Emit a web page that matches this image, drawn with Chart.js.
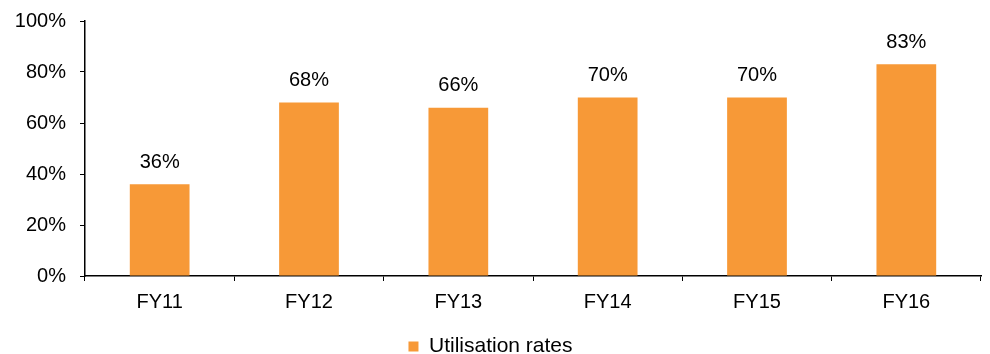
<!DOCTYPE html>
<html>
<head>
<meta charset="utf-8">
<script src="https://cdn.jsdelivr.net/npm/chart.js@4"></script>
<style>
  html, body { margin: 0; padding: 0; background: #fff; }
  #wrap { width: 990px; height: 354px; }
</style>
</head>
<body>
<div id="wrap"><canvas id="c" width="990" height="354"></canvas></div>
<script>
const categories = ['FY11', 'FY12', 'FY13', 'FY14', 'FY15', 'FY16'];
const utilisation = [36, 68, 66, 70, 70, 83];
const yTicks = [0, 20, 40, 60, 80, 100];
const seriesName = 'Utilisation rates';

const FONT = '"Liberation Sans", Arial, sans-serif';
const ORANGE = 'rgb(247,153,55)';

// Writes each bar's value above it
const valueLabels = {
  id: 'valueLabels',
  afterDatasetsDraw(chart) {
    const ctx = chart.ctx;
    const meta = chart.getDatasetMeta(0);
    ctx.save();
    ctx.font = '20px ' + FONT;
    ctx.fillStyle = '#000';
    ctx.textAlign = 'center';
    ctx.textBaseline = 'bottom';
    meta.data.forEach((bar, i) => {
      ctx.fillText(utilisation[i] + '%', bar.x, bar.y - 12);
    });
    ctx.restore();
  }
};

new Chart(document.getElementById('c'), {
  type: 'bar',
  data: {
    labels: categories,
    datasets: [{
      label: seriesName,
      data: utilisation,
      backgroundColor: ORANGE,
      borderWidth: 0,
      categoryPercentage: 1,
      barPercentage: 0.4
    }]
  },
  options: {
    responsive: false,
    animation: false,
    devicePixelRatio: 1,
    layout: { padding: { top: 21, right: 9, left: 0, bottom: -13 } },
    plugins: {
      tooltip: { enabled: false },
      legend: {
        position: 'bottom',
        labels: {
          color: '#000',
          font: { family: FONT, size: 21 },
          boxWidth: 10,
          boxHeight: 10,
          padding: 4
        }
      }
    },
    scales: {
      x: {
        grid: {
          display: true,
          drawOnChartArea: false,
          drawTicks: true,
          tickLength: 5,
          tickColor: '#000',
          offset: true
        },
        border: { display: true, color: '#000', width: 1.5 },
        ticks: { color: '#000', font: { family: FONT, size: 20 }, padding: 9 },
        afterFit(scale) { scale.height = 56; scale.paddingLeft = 0; scale.paddingRight = 0; }
      },
      y: {
        min: 0,
        max: 100,
        afterBuildTicks(scale) { scale.ticks = yTicks.map(v => ({ value: v })); },
        grid: {
          display: true,
          drawOnChartArea: false,
          drawTicks: true,
          tickLength: 5,
          tickColor: '#000'
        },
        border: { display: true, color: '#000', width: 1.5 },
        ticks: {
          color: '#000',
          font: { family: FONT, size: 20 },
          padding: 14,
          callback: v => v + '%'
        },
        afterFit(scale) { scale.width = 85; scale.paddingTop = 0; scale.paddingBottom = 0; }
      }
    }
  },
  plugins: [valueLabels]
});
</script>
</body>
</html>
